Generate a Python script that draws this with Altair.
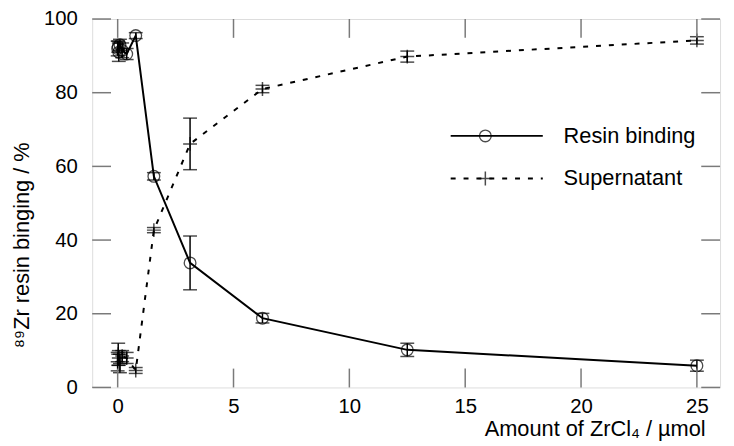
import altair as alt
import pandas as pd

# ---- data ----
amount = [0, 0.024, 0.049, 0.098, 0.195, 0.39, 0.78, 1.5625, 3.125, 6.25, 12.5, 25]
resin = [92.0, 92.5, 91.0, 93.0, 91.5, 90.5, 95.5, 57.3, 33.8, 18.8, 10.2, 5.9]
resin_err = [2.0, 1.5, 2.5, 1.5, 2.0, 1.5, 0.8, 1.0, 7.3, 1.3, 1.8, 1.5]
sup = [7.0, 9.0, 8.0, 6.5, 8.5, 8.0, 4.6, 42.7, 66.1, 81.0, 89.8, 94.2]
sup_err = [2.5, 3.0, 2.0, 2.5, 1.5, 1.5, 0.8, 0.7, 7.0, 1.0, 1.5, 1.0]
x_ticks = [0, 5, 10, 15, 20, 25]
y_ticks = [0, 20, 40, 60, 80, 100]
legend_labels = ["Resin binding", "Supernatant"]

W, H = 634, 372
FONT = "Liberation Sans"
FRAME = "#7a7a7a"
LBL = 20.5
TTL = 22

rows = []
for a, v, e in zip(amount, resin, resin_err):
    rows.append({"x": a, "y": v, "lo": v - e, "hi": v + e, "s": "resin"})
for a, v, e in zip(amount, sup, sup_err):
    rows.append({"x": a, "y": v, "lo": v - e, "hi": v + e, "s": "sup"})
df = pd.DataFrame(rows)
dres = df[df.s == "resin"]
dsup = df[df.s == "sup"]

xs = alt.Scale(domain=[-1.1, 26], nice=False, zero=False)
ys = alt.Scale(domain=[0, 100], nice=False)

XAX = alt.Axis(
    values=x_ticks, ticks=False, domain=False, grid=False,
    labelFontSize=LBL, labelFont=FONT, labelColor="black", labelPadding=9,
    title="Amount of ZrCl₄ / µmol", titleFont=FONT, titleFontSize=TTL,
    titleFontWeight="normal", titleColor="black", titleAlign="right",
    titleX=619, titleY=42, titleBaseline="middle")
YAX = alt.Axis(
    values=y_ticks, ticks=False, domain=False, grid=False,
    labelFontSize=LBL, labelFont=FONT, labelColor="black", labelPadding=15,
    title="⁸⁹Zr resin binging / %", titleFont=FONT, titleFontSize=TTL,
    titleFontWeight="normal", titleColor="black", titleAlign="center",
    titleBaseline="middle", titleX=-71, titleY=228, titleAngle=-90)


def X(f="x"):
    return alt.X(f"{f}:Q", scale=xs, axis=XAX)


def Y(f="y"):
    return alt.Y(f"{f}:Q", scale=ys, axis=YAX)


line_res = alt.Chart(dres).mark_line(color="black", strokeWidth=2).encode(x=X(), y=Y())
line_sup = alt.Chart(dsup).mark_line(color="black", strokeWidth=2, strokeDash=[5, 8]).encode(x=X(), y=Y())

err = alt.Chart(df).mark_rule(color="black", strokeWidth=1.5).encode(
    x=X(), y=Y("lo"), y2="hi:Q")
cap_lo = alt.Chart(df).mark_tick(color="black", orient="horizontal", size=14, thickness=1.5).encode(
    x=X(), y=Y("lo"))
cap_hi = alt.Chart(df).mark_tick(color="black", orient="horizontal", size=14, thickness=1.5).encode(
    x=X(), y=Y("hi"))

PLUS = "M-1,0H1M0,-1V1"
pts_res = alt.Chart(dres).mark_point(shape="circle", filled=False, color="black",
                                     size=140, strokeWidth=1.3).encode(x=X(), y=Y())
pts_sup = alt.Chart(dsup).mark_point(shape=PLUS, filled=False, color="black",
                                     size=196, strokeWidth=1.5).encode(x=X(), y=Y())

# inward ticks on all four sides
xt = pd.DataFrame({"x": x_ticks})
yt = pd.DataFrame({"y": y_ticks})
TL = 19
tx_bot = alt.Chart(xt).mark_rule(color=FRAME, strokeWidth=1.5).encode(
    x=X(), y=alt.value(H - TL), y2=alt.value(H))
tx_top = alt.Chart(xt).mark_rule(color=FRAME, strokeWidth=1.5).encode(
    x=X(), y=alt.value(0), y2=alt.value(TL))
ty_left = alt.Chart(yt).mark_rule(color=FRAME, strokeWidth=1.5).encode(
    y=Y(), x=alt.value(0), x2=alt.value(TL))
ty_right = alt.Chart(yt).mark_rule(color=FRAME, strokeWidth=1.5).encode(
    y=Y(), x=alt.value(W - TL), x2=alt.value(W))

# legend
l1 = pd.DataFrame({"label": [legend_labels[0]]})
l2 = pd.DataFrame({"label": [legend_labels[1]]})
LX0, LX1, LXM, LXT = 362, 455, 397, 476
LY1, LY2 = 118, 161
leg = [
    alt.Chart(l1).mark_rule(color="black", strokeWidth=2).encode(
        x=alt.value(LX0), x2=alt.value(LX1), y=alt.value(LY1)),
    alt.Chart(l1).mark_point(shape="circle", filled=False, color="black", size=140, strokeWidth=1.3).encode(
        x=alt.value(LXM), y=alt.value(LY1)),
    alt.Chart(l1).mark_text(align="left", baseline="middle", font=FONT, fontSize=TTL, color="black").encode(
        x=alt.value(LXT), y=alt.value(LY1), text="label:N"),
    alt.Chart(l2).mark_rule(color="black", strokeWidth=2, strokeDash=[5, 8]).encode(
        x=alt.value(LX0), x2=alt.value(LX1), y=alt.value(LY2)),
    alt.Chart(l2).mark_point(shape=PLUS, filled=False, color="black", size=196, strokeWidth=1.5).encode(
        x=alt.value(LXM), y=alt.value(LY2)),
    alt.Chart(l2).mark_text(align="left", baseline="middle", font=FONT, fontSize=TTL, color="black").encode(
        x=alt.value(LXT), y=alt.value(LY2), text="label:N"),
]

chart = alt.layer(
    line_res, line_sup, err, cap_lo, cap_hi, pts_res, pts_sup,
    tx_bot, tx_top, ty_left, ty_right, *leg
).properties(
    width=W, height=H,
    autosize=alt.AutoSizeParams(type="none"),
    padding={"left": 85, "top": 9, "right": 6, "bottom": 56},
).configure_view(stroke=FRAME, strokeWidth=1.5).configure(background="white")

chart.save("out.html", embed_options={"renderer": "svg", "actions": False})
